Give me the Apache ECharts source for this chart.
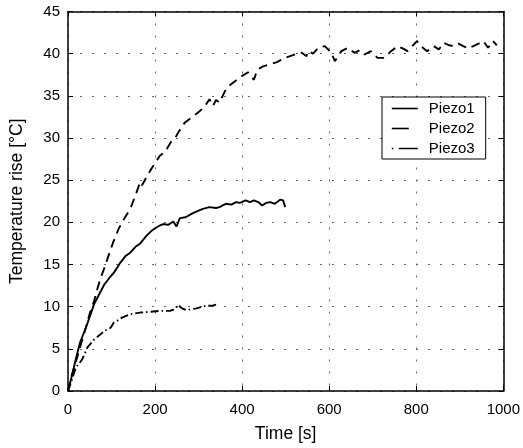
<!DOCTYPE html>
<html>
<head>
<meta charset="utf-8">
<script src="https://cdn.jsdelivr.net/npm/echarts@6/dist/echarts.min.js"></script>
<style>
  html, body { margin: 0; padding: 0; background: #fff; }
  #chart { width: 523px; height: 448px; }
</style>
</head>
<body>
<div id="chart"></div>
<script>
// Piezo1 (solid)
const piezo1Time = [0, 5, 10, 18, 28, 41, 50, 60, 72, 83, 95, 105, 120, 132, 143, 155, 166, 180, 190, 200,
  210, 219, 230, 242, 249, 257, 270, 287, 300, 310, 325, 340, 348, 355, 363, 375, 386, 395, 408, 418,
  427, 437, 446, 455, 465, 475, 488, 494, 499]
const piezo1Temp = [0, 1.0, 2.0, 3.8, 5.8, 7.5, 8.8, 10.3, 11.5, 12.6, 13.4, 14.0, 15.2, 16.0, 16.4, 17.1, 17.5, 18.4, 18.9, 19.3,
  19.6, 19.8, 19.7, 20.1, 19.5, 20.5, 20.6, 21.1, 21.4, 21.6, 21.8, 21.7, 21.8, 22.0, 22.2, 22.1, 22.4, 22.3, 22.6, 22.4,
  22.6, 22.4, 22.0, 22.3, 22.4, 22.2, 22.7, 22.6, 21.8]

// Piezo2 (dashed)
const piezo2Time = [0, 7, 20, 30, 41, 50, 60, 68, 75, 85, 94, 105, 117, 130, 143, 155, 166, 170, 183, 196,
  211, 219, 227, 236, 245, 255, 268, 283, 298, 312, 325, 333, 340, 348, 360, 370, 385, 401, 414, 427,
  435, 448, 461, 480, 499, 515, 530, 537, 548, 552, 563, 575, 590, 605, 613, 628, 643, 658, 670, 681,
  696, 711, 727, 742, 757, 770, 780, 802, 810, 825, 840, 852, 863, 875, 886, 897, 908, 920, 931, 943,
  954, 965, 976, 985]
const piezo2Temp = [0, 1.6, 3.8, 5.6, 7.5, 9.2, 10.7, 12.2, 13.4, 14.8, 16.2, 17.8, 19.3, 20.5, 21.6, 23.2, 24.8, 24.4, 25.6, 26.7,
  27.9, 28.2, 28.7, 29.5, 29.9, 30.8, 31.8, 32.4, 33.0, 33.6, 34.6, 33.8, 34.5, 34.2, 35.5, 36.2, 36.8, 37.4, 37.8, 36.9,
  38.1, 38.5, 38.7, 39.0, 39.5, 39.8, 40.1, 40.1, 39.7, 40.3, 40.0, 40.7, 40.9, 40.1, 39.1, 40.3, 40.7, 40.1, 40.4, 39.9,
  40.3, 39.5, 39.5, 40.3, 40.9, 40.6, 40.3, 41.5, 40.9, 40.3, 40.9, 40.5, 41.3, 41.0, 40.9, 41.2, 40.9, 40.6, 40.9, 41.2,
  41.5, 40.7, 41.5, 41.0]

// Piezo3 (dash-dot)
const piezo3Time = [0, 8, 18, 25, 33, 45, 60, 72, 83, 98, 105, 115, 124, 143, 166, 189, 211, 234, 245, 253,
  262, 272, 295, 317, 330, 344]
const piezo3Temp = [0, 1.2, 2.8, 3.2, 3.8, 5.2, 6.1, 6.6, 7.1, 7.5, 8.1, 8.4, 8.7, 9.1, 9.3, 9.4, 9.5, 9.5, 9.7, 10.2,
  9.8, 9.6, 9.8, 10.1, 10.1, 10.3]

const seriesNames = ['Piezo1', 'Piezo2', 'Piezo3']

const zip = (xs, ys) => xs.map((x, i) => [x, ys[i]])

const font = 'Liberation Sans, Arial, Helvetica, sans-serif'

const chart = echarts.init(document.getElementById('chart'))

const boxAxisLine = { show: true, onZero: false, lineStyle: { color: '#000', width: 1.5 } }
const boxTick = { show: true, inside: true, length: 5, lineStyle: { color: '#000', width: 1 } }
const dotted = { show: true, lineStyle: { color: '#666', width: 1, type: [2, 10] } }

const dashes = {
  Piezo1: 'solid',
  Piezo2: [9, 6],
  Piezo3: [8, 3, 1.5, 3],
}
// legend samples: one long dash / dot + dash, like the original key
const legendDashes = {
  Piezo1: 'solid',
  Piezo2: [17, 20],
  Piezo3: [1.5, 5.5, 19, 10],
}

const lineSeries = (name, data) => ({
  name,
  type: 'line',
  data,
  symbol: 'none',
  showSymbol: false,
  lineStyle: { color: '#000', width: 1.9, type: dashes[name] },
  itemStyle: { color: '#000' },
})

const option = {
  animation: false,
  backgroundColor: '#fff',
  textStyle: { fontFamily: font },
  grid: { left: 67, right: 16, top: 11.5, bottom: 54 },
  legend: {
    orient: 'vertical',
    left: 382,
    top: 97,
    data: seriesNames.map(n => ({
      name: n,
      itemStyle: { opacity: 0 },
      lineStyle: { color: '#000', width: 1.6, type: legendDashes[n] },
    })),
    backgroundColor: '#fff',
    borderColor: '#000',
    borderWidth: 1,
    padding: [4, 11, 3, 9],
    itemWidth: 26,
    itemHeight: 14,
    itemGap: 5,
    textStyle: { fontFamily: font, fontSize: 15, color: '#000', padding: [0, 0, 0, 6] },
  },
  xAxis: [
    {
      type: 'value',
      min: 0,
      max: 1000,
      interval: 200,
      name: 'Time [s]',
      nameLocation: 'middle',
      nameGap: 34,
      nameTextStyle: { fontFamily: font, fontSize: 17.5, color: '#000' },
      axisLine: boxAxisLine,
      axisTick: boxTick,
      axisLabel: { fontFamily: font, fontSize: 15, color: '#000', margin: 11, formatter: v => String(v) },
      splitLine: dotted,
    },
    {
      type: 'value',
      position: 'top',
      min: 0,
      max: 1000,
      interval: 200,
      axisLine: boxAxisLine,
      axisTick: boxTick,
      axisLabel: { show: false },
      splitLine: { show: false },
    },
  ],
  yAxis: [
    {
      type: 'value',
      min: 0,
      max: 45,
      interval: 5,
      name: 'Temperature rise [°C]',
      nameLocation: 'middle',
      nameGap: 42,
      nameTextStyle: { fontFamily: font, fontSize: 17.5, color: '#000' },
      axisLine: boxAxisLine,
      axisTick: boxTick,
      axisLabel: { fontFamily: font, fontSize: 15, color: '#000', margin: 8 },
      splitLine: dotted,
    },
    {
      type: 'value',
      position: 'right',
      min: 0,
      max: 45,
      interval: 5,
      axisLine: boxAxisLine,
      axisTick: boxTick,
      axisLabel: { show: false },
      splitLine: { show: false },
    },
  ],
  series: seriesNames.map((n, i) =>
    lineSeries(n, zip([piezo1Time, piezo2Time, piezo3Time][i], [piezo1Temp, piezo2Temp, piezo3Temp][i]))
  ),
}

chart.setOption(option)
</script>
</body>
</html>
